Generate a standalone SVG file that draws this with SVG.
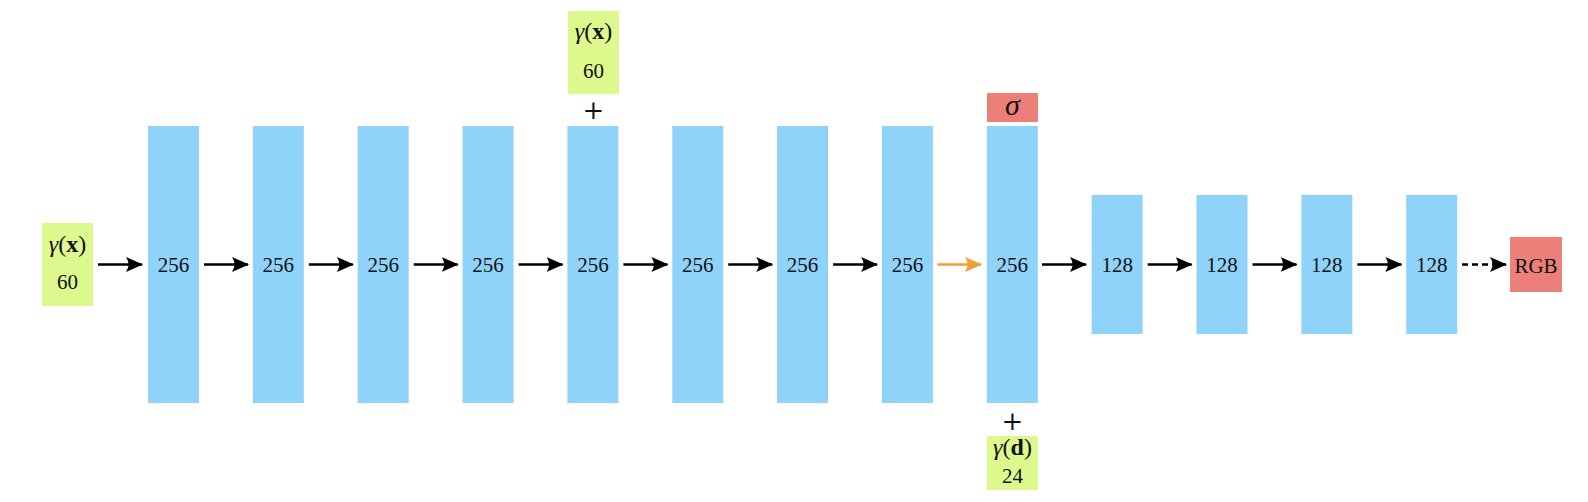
<svg xmlns="http://www.w3.org/2000/svg" width="1588" height="502" viewBox="0 0 1588 502">
<style>
.bar{fill:#8fd3fb}
.grn{fill:#ddf98e}
.red{fill:#ec8079}
.t{font-family:"Liberation Serif","Times New Roman",serif;font-size:21px;fill:#111;text-anchor:middle}
.g{font-family:"Liberation Serif","Times New Roman",serif;font-size:24px;fill:#111;text-anchor:middle}
.p{font-family:"DejaVu Serif","Liberation Serif",serif;font-size:26px;font-weight:200;fill:#111;text-anchor:middle}
.c{stroke:#000;stroke-width:2.6;fill:none}
</style>
<defs>
<marker id="ah" viewBox="0 0 17 15" refX="16" refY="7.5" markerWidth="17" markerHeight="15" markerUnits="userSpaceOnUse" orient="auto">
<path d="M0,0 L17,7.5 L0,15 Q5,7.5 0,0 Z" fill="#000"/>
</marker>
<marker id="aho" viewBox="0 0 17 15" refX="16" refY="7.5" markerWidth="17" markerHeight="15" markerUnits="userSpaceOnUse" orient="auto">
<path d="M0,0 L17,7.5 L0,15 Q5,7.5 0,0 Z" fill="#f0a030"/>
</marker>
</defs>

<g id="input-x">
<rect class="grn" x="42" y="223" width="51" height="83"/>
<text class="g" x="67.5" y="252"><tspan font-style="italic">γ</tspan>(<tspan font-weight="bold">x</tspan>)</text>
<text class="t" x="67.5" y="289">60</text>
</g>

<g id="skip-x">
<rect class="grn" x="568" y="11" width="51" height="83"/>
<text class="g" x="593.5" y="39"><tspan font-style="italic">γ</tspan>(<tspan font-weight="bold">x</tspan>)</text>
<text class="t" x="593.5" y="78">60</text>
<text class="p" x="593.5" y="119">+</text>
</g>

<g id="input-d">
<text class="p" x="1012.5" y="430">+</text>
<rect class="grn" x="987" y="436" width="51" height="54"/>
<text class="g" x="1012.5" y="455"><tspan font-style="italic">γ</tspan>(<tspan font-weight="bold">d</tspan>)</text>
<text class="t" x="1012.5" y="483">24</text>
</g>

<g id="sigma">
<rect class="red" x="987" y="93" width="51" height="29"/>
<text x="1012.5" y="115" font-family="'Liberation Serif','Times New Roman',serif" font-size="30" font-style="italic" text-anchor="middle" fill="#111">σ</text>
</g>

<g id="rgb">
<rect class="red" x="1510" y="237" width="52" height="55"/>
<text class="t" x="1536" y="273">RGB</text>
</g>

<g id="layer1"><rect class="bar" x="148" y="126" width="51" height="277"/><text class="t" x="173.5" y="272">256</text></g>
<g id="layer2"><rect class="bar" x="252.85" y="126" width="51" height="277"/><text class="t" x="278.35" y="272">256</text></g>
<g id="layer3"><rect class="bar" x="357.7" y="126" width="51" height="277"/><text class="t" x="383.2" y="272">256</text></g>
<g id="layer4"><rect class="bar" x="462.55" y="126" width="51" height="277"/><text class="t" x="488.05" y="272">256</text></g>
<g id="layer5"><rect class="bar" x="567.4" y="126" width="51" height="277"/><text class="t" x="592.9" y="272">256</text></g>
<g id="layer6"><rect class="bar" x="672.25" y="126" width="51" height="277"/><text class="t" x="697.75" y="272">256</text></g>
<g id="layer7"><rect class="bar" x="777.1" y="126" width="51" height="277"/><text class="t" x="802.6" y="272">256</text></g>
<g id="layer8"><rect class="bar" x="881.95" y="126" width="51" height="277"/><text class="t" x="907.45" y="272">256</text></g>
<g id="layer9"><rect class="bar" x="986.8" y="126" width="51" height="277"/><text class="t" x="1012.3" y="272">256</text></g>
<g id="layer10"><rect class="bar" x="1091.65" y="195" width="51" height="139"/><text class="t" x="1117.15" y="272">128</text></g>
<g id="layer11"><rect class="bar" x="1196.5" y="195" width="51" height="139"/><text class="t" x="1222" y="272">128</text></g>
<g id="layer12"><rect class="bar" x="1301.35" y="195" width="51" height="139"/><text class="t" x="1326.85" y="272">128</text></g>
<g id="layer13"><rect class="bar" x="1406.2" y="195" width="51" height="139"/><text class="t" x="1431.7" y="272">128</text></g>

<g id="connectors">
<line class="c" x1="98" y1="264.5" x2="142" y2="264.5" marker-end="url(#ah)"/>
<line class="c" x1="204" y1="264.5" x2="248" y2="264.5" marker-end="url(#ah)"/>
<line class="c" x1="308.85" y1="264.5" x2="352.85" y2="264.5" marker-end="url(#ah)"/>
<line class="c" x1="413.7" y1="264.5" x2="457.7" y2="264.5" marker-end="url(#ah)"/>
<line class="c" x1="518.55" y1="264.5" x2="562.55" y2="264.5" marker-end="url(#ah)"/>
<line class="c" x1="623.4" y1="264.5" x2="667.4" y2="264.5" marker-end="url(#ah)"/>
<line class="c" x1="728.25" y1="264.5" x2="772.25" y2="264.5" marker-end="url(#ah)"/>
<line class="c" x1="833.1" y1="264.5" x2="877.1" y2="264.5" marker-end="url(#ah)"/>
<line class="c" x1="937.5" y1="264.5" x2="981" y2="264.5" style="stroke:#f0a030" marker-end="url(#aho)"/>
<line class="c" x1="1042" y1="264.5" x2="1086" y2="264.5" marker-end="url(#ah)"/>
<line class="c" x1="1147.65" y1="264.5" x2="1191.65" y2="264.5" marker-end="url(#ah)"/>
<line class="c" x1="1252.5" y1="264.5" x2="1296.5" y2="264.5" marker-end="url(#ah)"/>
<line class="c" x1="1357.35" y1="264.5" x2="1401.35" y2="264.5" marker-end="url(#ah)"/>
<line class="c" x1="1462" y1="264.5" x2="1506" y2="264.5" stroke-dasharray="6,4" marker-end="url(#ah)"/>
</g>
</svg>
